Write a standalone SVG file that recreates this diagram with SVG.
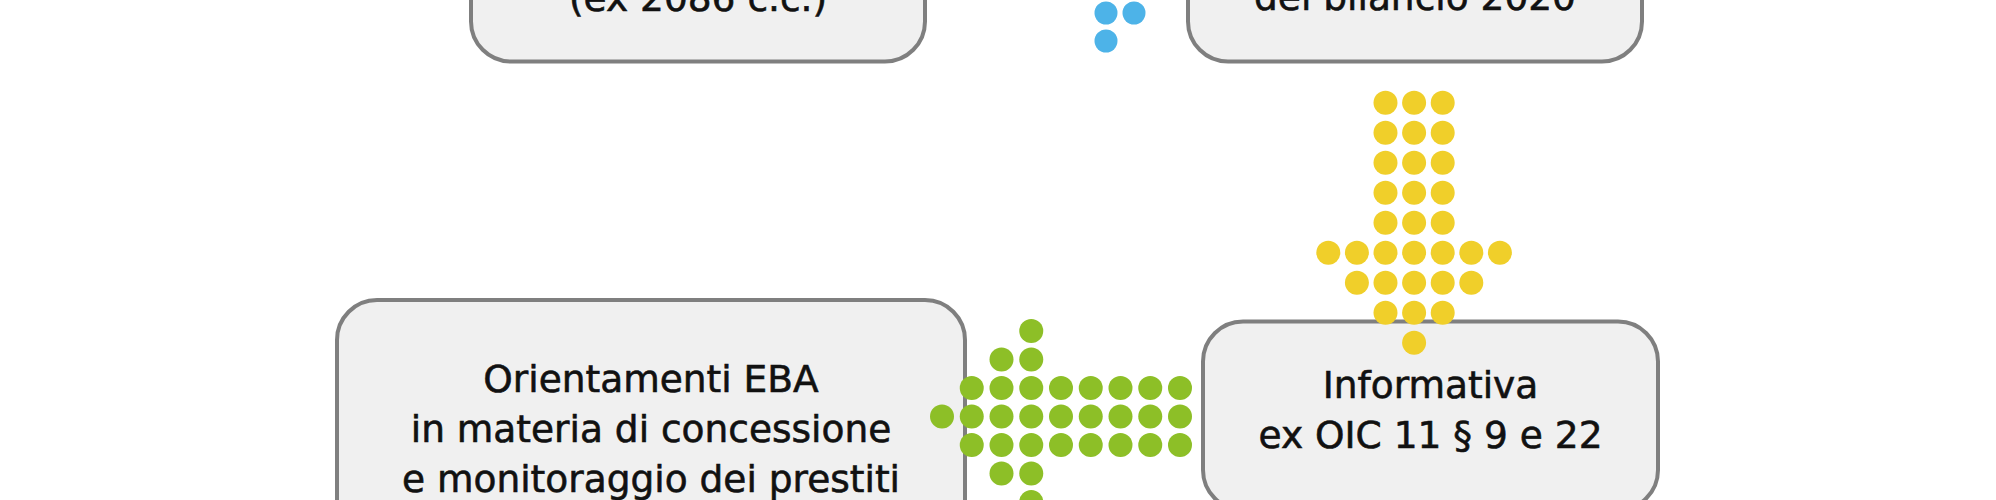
<svg xmlns="http://www.w3.org/2000/svg" width="1996" height="500" viewBox="0 0 1996 500">
<style>
.box{fill:#f0f0f0;stroke:#7f7f7f;stroke-width:4}
.t{font-family:"DejaVu Sans",sans-serif;font-size:37.5px;fill:#111;stroke:#111;stroke-width:0.6;text-anchor:middle}
.y{fill:#f0cf2a}
.g{fill:#8dbf27}
.b{fill:#4db3e8}
</style>
<rect width="1996" height="500" fill="#fff"/>
<g id="node-assetti">
<rect class="box" x="471" y="-127" width="454" height="188.5" rx="40"/>
<text class="t" x="698" y="11">(ex 2086 c.c.)</text>
</g>
<g id="node-bilancio">
<rect class="box" x="1188" y="-127" width="454" height="188.5" rx="40"/>
<text class="t" x="1415" y="10">del bilancio 2020</text>
</g>
<g id="node-eba">
<rect class="box" x="337" y="300" width="628" height="260" rx="40"/>
<text class="t" x="651" y="392">Orientamenti EBA</text>
<text class="t" x="651" y="442">in materia di concessione</text>
<text class="t" x="651" y="492">e monitoraggio dei prestiti</text>
</g>
<g id="node-informativa">
<rect class="box" x="1203" y="321.5" width="455" height="188.5" rx="40"/>
<text class="t" x="1430.5" y="398">Informativa</text>
<text class="t" x="1430.5" y="448">ex OIC 11 § 9 e 22</text>
</g>
<g id="connectors">
<g id="arrow-blue" class="b">
<circle cx="1106" cy="13" r="11.5"/><circle cx="1134" cy="13" r="11.5"/><circle cx="1106" cy="41" r="11.5"/>
</g>
<g id="arrow-yellow" class="y">
<circle cx="1385.5" cy="102.7" r="12"/><circle cx="1414.1" cy="102.7" r="12"/><circle cx="1442.7" cy="102.7" r="12"/>
<circle cx="1385.5" cy="132.7" r="12"/><circle cx="1414.1" cy="132.7" r="12"/><circle cx="1442.7" cy="132.7" r="12"/>
<circle cx="1385.5" cy="162.7" r="12"/><circle cx="1414.1" cy="162.7" r="12"/><circle cx="1442.7" cy="162.7" r="12"/>
<circle cx="1385.5" cy="192.7" r="12"/><circle cx="1414.1" cy="192.7" r="12"/><circle cx="1442.7" cy="192.7" r="12"/>
<circle cx="1385.5" cy="222.7" r="12"/><circle cx="1414.1" cy="222.7" r="12"/><circle cx="1442.7" cy="222.7" r="12"/>
<circle cx="1328.3" cy="252.7" r="12"/><circle cx="1356.9" cy="252.7" r="12"/><circle cx="1385.5" cy="252.7" r="12"/><circle cx="1414.1" cy="252.7" r="12"/><circle cx="1442.7" cy="252.7" r="12"/><circle cx="1471.3" cy="252.7" r="12"/><circle cx="1499.9" cy="252.7" r="12"/>
<circle cx="1356.9" cy="282.7" r="12"/><circle cx="1385.5" cy="282.7" r="12"/><circle cx="1414.1" cy="282.7" r="12"/><circle cx="1442.7" cy="282.7" r="12"/><circle cx="1471.3" cy="282.7" r="12"/>
<circle cx="1385.5" cy="312.7" r="12"/><circle cx="1414.1" cy="312.7" r="12"/><circle cx="1442.7" cy="312.7" r="12"/>
<circle cx="1414.1" cy="342.7" r="12"/>
</g>
<g id="arrow-green" class="g">
<circle cx="1180" cy="388" r="12"/><circle cx="1180" cy="416.5" r="12"/><circle cx="1180" cy="445" r="12"/>
<circle cx="1150.25" cy="388" r="12"/><circle cx="1150.25" cy="416.5" r="12"/><circle cx="1150.25" cy="445" r="12"/>
<circle cx="1120.5" cy="388" r="12"/><circle cx="1120.5" cy="416.5" r="12"/><circle cx="1120.5" cy="445" r="12"/>
<circle cx="1090.75" cy="388" r="12"/><circle cx="1090.75" cy="416.5" r="12"/><circle cx="1090.75" cy="445" r="12"/>
<circle cx="1061" cy="388" r="12"/><circle cx="1061" cy="416.5" r="12"/><circle cx="1061" cy="445" r="12"/>
<circle cx="1031.25" cy="331" r="12"/><circle cx="1031.25" cy="359.5" r="12"/><circle cx="1031.25" cy="388" r="12"/><circle cx="1031.25" cy="416.5" r="12"/><circle cx="1031.25" cy="445" r="12"/><circle cx="1031.25" cy="473.5" r="12"/><circle cx="1031.25" cy="502" r="12"/>
<circle cx="1001.5" cy="359.5" r="12"/><circle cx="1001.5" cy="388" r="12"/><circle cx="1001.5" cy="416.5" r="12"/><circle cx="1001.5" cy="445" r="12"/><circle cx="1001.5" cy="473.5" r="12"/>
<circle cx="971.75" cy="388" r="12"/><circle cx="971.75" cy="416.5" r="12"/><circle cx="971.75" cy="445" r="12"/>
<circle cx="942" cy="416.5" r="12"/>
</g>
</g>
</svg>
